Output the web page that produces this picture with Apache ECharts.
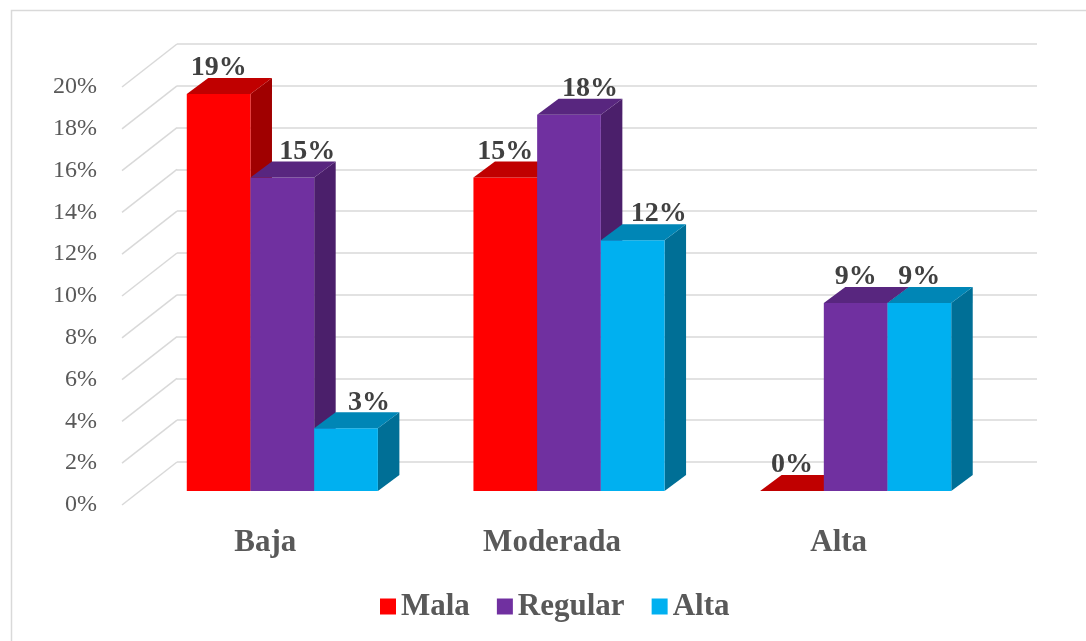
<!DOCTYPE html>
<html>
<head>
<meta charset="utf-8">
<script src="https://cdn.jsdelivr.net/npm/echarts@6/dist/echarts.min.js"></script>
<style>
html,body{margin:0;padding:0;background:#fff;}
#chart{width:1086px;height:641px;}
</style>
</head>
<body>
<div id="chart"></div>
<script>
// ---- data ----
const categories = ['Baja', 'Moderada', 'Alta'];
const seriesNames = ['Mala', 'Regular', 'Alta'];
const mala = [19, 15, 0];
const regular = [15, 18, 9];
const alta = [3, 12, 9];
const yTicks = [0, 2, 4, 6, 8, 10, 12, 14, 16, 18, 20];

// ---- styles / layout ----
const FONT = "'Liberation Serif','Times New Roman',serif";
const FRONT = {left: 139, top: 73, width: 860, height: 418};
const WALL = [38, -29];      // front plane -> back wall
const LABELP = [-17, 14];    // front plane -> label plane
const BAR_DEPTH = [21.5, -16];
const faces = [
  {front: '#FF0000', top: '#C00000', side: '#A00000'},
  {front: '#7030A0', top: '#58267F', side: '#4B1F6B'},
  {front: '#00B0F0', top: '#0086B6', side: '#006F96'}
];
const labelShift = [[0, 0, 0], [25, 21, 0], [23, 26, 0]];
const seriesData = [mala, regular, alta];

const chart = echarts.init(document.getElementById('chart'), null, {renderer: 'canvas'});

function barRender(sIdx) {
  return function (params, api) {
    const ci = api.value(0), v = api.value(1);
    const top = api.coord([ci, v]);
    const base = api.coord([ci, 0]);
    const band = api.size([1, 0])[0];
    const bw = band * 2 / 9;
    const x0 = top[0] - band / 3 + sIdx * bw;
    const x1 = x0 + bw;
    const yT = top[1], yB = base[1];
    const dx = BAR_DEPTH[0], dy = BAR_DEPTH[1];
    const f = faces[sIdx];
    const children = [];
    if (v > 0) {
      children.push({type: 'polygon', shape: {points: [[x1, yT], [x1 + dx, yT + dy], [x1 + dx, yB + dy], [x1, yB]]}, style: {fill: f.side}});
      children.push({type: 'rect', shape: {x: x0, y: yT, width: bw, height: yB - yT}, style: {fill: f.front}});
    }
    children.push({type: 'polygon', shape: {points: [[x0, yT], [x0 + dx, yT + dy], [x1 + dx, yT + dy], [x1, yT]]}, style: {fill: f.top}});
    children.push({
      type: 'text',
      style: {
        text: v + '%', x: (x0 + x1) / 2 + labelShift[sIdx][params.dataIndex], y: yT + dy - 10,
        align: 'center', verticalAlign: 'middle',
        font: 'bold 28px ' + FONT, fill: '#404040'
      },
      z2: 10
    });
    return {type: 'group', children: children};
  };
}

const barSeries = seriesNames.map((name, s) => ({
  name: name,
  type: 'custom',
  xAxisIndex: 0, yAxisIndex: 0,
  itemStyle: {color: faces[s].front},
  renderItem: barRender(s),
  data: seriesData[s].map((v, i) => [i, v]),
  z: 5
}));

const option = {
  animation: false,
  backgroundColor: '#fff',
  graphic: [{
    type: 'rect', left: 9, top: 8, shape: {width: 1100, height: 700},
    style: {fill: 'none', stroke: '#D9D9D9', lineWidth: 1.5}, silent: true
  }],
  legend: {
    data: seriesNames,
    left: 375, top: 586,
    icon: 'rect', itemWidth: 16, itemHeight: 16, itemGap: 27,
    textStyle: {fontFamily: FONT, fontSize: 31, fontWeight: 'bold', color: '#595959'}
  },
  grid: [
    {left: FRONT.left, top: FRONT.top, width: FRONT.width, height: FRONT.height},
    {left: FRONT.left + WALL[0], top: FRONT.top + WALL[1], width: FRONT.width, height: FRONT.height},
    {left: FRONT.left + LABELP[0], top: FRONT.top + LABELP[1], width: FRONT.width, height: FRONT.height}
  ],
  xAxis: [
    {gridIndex: 0, type: 'category', data: categories, show: false},
    {gridIndex: 1, type: 'category', data: categories, show: false},
    {gridIndex: 2, type: 'category', data: categories,
      axisLine: {show: false}, axisTick: {show: false}, splitLine: {show: false},
      axisLabel: {margin: 22, fontFamily: FONT, fontSize: 31, fontWeight: 'bold', color: '#595959'}}
  ],
  yAxis: [
    {gridIndex: 0, type: 'value', min: 0, max: 20, interval: 2, show: false},
    {gridIndex: 1, type: 'value', min: 0, max: 20, interval: 2,
      axisLine: {show: false}, axisTick: {show: false}, axisLabel: {show: false},
      splitLine: {show: true, lineStyle: {color: '#D9D9D9', width: 1.5}}},
    {gridIndex: 2, type: 'value', min: 0, max: 20, interval: 2,
      axisLine: {show: false}, axisTick: {show: false}, splitLine: {show: false},
      axisLabel: {margin: 25, formatter: '{value}%', fontFamily: FONT, fontSize: 24, color: '#595959'}}
  ],
  series: [{
    type: 'custom',
    name: 'wall',
    xAxisIndex: 1, yAxisIndex: 1,
    silent: true,
    z: 1,
    renderItem: function (params, api) {
      const cs = params.coordSys;
      const p = api.coord([0, api.value(0)]);
      const bx = cs.x;
      const dx = LABELP[0] - WALL[0], dy = LABELP[1] - WALL[1];
      return {type: 'line', shape: {x1: bx, y1: p[1], x2: bx + dx, y2: p[1] + dy},
        style: {stroke: '#D9D9D9', lineWidth: 1.5}};
    },
    data: yTicks.map(t => [t])
  }].concat(barSeries)
};
chart.setOption(option);
</script>
</body>
</html>
